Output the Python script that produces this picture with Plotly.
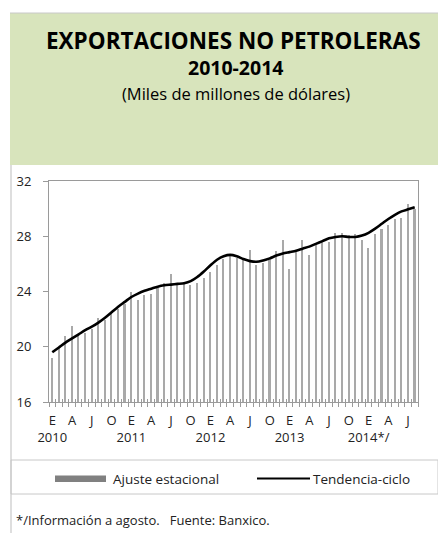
import plotly.graph_objects as go

# ---------------- data ----------------
month_index = list(range(56))  # Jan 2010 .. Aug 2014
ajuste_estacional = [
    19.2, 19.9, 20.75, 21.5, 20.85, 21.0, 21.3, 22.05, 21.95, 22.4, 22.7, 23.1,
    24.0, 23.4, 23.75, 23.85, 24.25, 24.65, 25.3, 24.6, 24.6, 24.5, 24.6, 25.0,
    25.4, 25.9, 26.35, 26.6, 26.4, 26.3, 27.0, 25.95, 26.05, 26.4, 26.9, 27.7,
    25.6, 26.9, 27.7, 26.65, 27.35, 27.55, 27.6, 28.25, 28.2, 28.1, 28.15, 27.7,
    27.15, 28.15, 28.5, 28.85, 29.25, 29.3, 30.35, 30.0,
]
tendencia_ciclo = [
    19.6, 19.95, 20.3, 20.6, 20.9, 21.2, 21.45, 21.75, 22.1, 22.5, 22.9, 23.25,
    23.6, 23.85, 24.05, 24.2, 24.35, 24.45, 24.5, 24.55, 24.6, 24.75, 25.05, 25.45,
    25.9, 26.3, 26.55, 26.65, 26.55, 26.35, 26.2, 26.15, 26.25, 26.4, 26.6, 26.75,
    26.85, 26.95, 27.1, 27.25, 27.45, 27.65, 27.85, 27.95, 28.0, 27.95, 27.95, 28.05,
    28.25, 28.55, 28.9, 29.25, 29.55, 29.8, 29.95, 30.1,
]
month_letters = ["E", "A", "J", "O"]
year_labels = ["2010", "2011", "2012", "2013", "2014*/"]
y_ticks = [16, 20, 24, 28, 32]

# ---------------- layout geometry ----------------
W, H = 438, 533
L, R, T, B = 49, 20, 181, 131
PW = W - L - R
PH = H - T - B

def px(x):
    return (x - L) / PW

def py(y):
    return (H - B - y) / PH

FONT = "Open Sans"

tickvals = list(range(0, len(month_index), 3))
ticktext = []
for i in tickvals:
    t = month_letters[(i % 12) // 3]
    if i % 12 == 0:
        t = t + "<br>" + year_labels[i // 12]
    ticktext.append(t)
boundaries = [k - 0.5 for k in range(len(month_index) + 1)]

fig = go.Figure()
fig.add_trace(go.Bar(x=month_index, y=ajuste_estacional, width=0.24,
                     marker=dict(color="#a9a9a9", line=dict(width=0)),
                     name="Ajuste estacional", showlegend=False))
fig.add_trace(go.Scatter(x=month_index, y=tendencia_ciclo, mode="lines",
                         line=dict(color="black", width=2.6, shape="spline", smoothing=0.8),
                         name="Tendencia-ciclo", showlegend=False))
# invisible trace for inside ticks axis
fig.add_trace(go.Scatter(x=[month_index[0]], y=[y_ticks[0]], xaxis="x2", mode="markers",
                         marker=dict(opacity=0), showlegend=False, hoverinfo="skip"))

axis_gray = "#9a9a9a"
fig.update_layout(
    width=W, height=H,
    margin=dict(l=L, r=R, t=T, b=B, autoexpand=False),
    paper_bgcolor="white", plot_bgcolor="white",
    font=dict(family=FONT, color="#222222", size=13),
    bargap=0,
    xaxis=dict(range=[-0.5, len(month_index) - 0.5], tickmode="array",
               tickvals=tickvals, ticktext=ticktext, ticks="", showgrid=False,
               zeroline=False, showline=True, linecolor=axis_gray, linewidth=1,
               mirror=True, ticklabelstandoff=6, tickangle=0, automargin=False,
               tickfont=dict(size=13, family=FONT, color="#222222"),
               minor=dict(tickmode="array", tickvals=boundaries, ticks="outside",
                          ticklen=4, tickcolor=axis_gray, tickwidth=1, showgrid=False)),
    xaxis2=dict(overlaying="x", range=[-0.5, len(month_index) - 0.5], tickmode="array",
                tickvals=boundaries, ticks="inside", ticklen=3, tickcolor=axis_gray,
                showticklabels=False, showgrid=False, zeroline=False, side="bottom",
                showline=False, automargin=False),
    yaxis=dict(range=[y_ticks[0], y_ticks[-1]], tickmode="array", tickvals=y_ticks,
               ticks="outside", ticklen=5, tickcolor=axis_gray, showgrid=False,
               zeroline=False, showline=True, linecolor=axis_gray, linewidth=1,
               mirror=True, ticklabelstandoff=9, automargin=False,
               tickfont=dict(size=13, family=FONT, color="#222222")),
)

shapes = []
# green title box
shapes.append(dict(type="rect", xref="paper", yref="paper", x0=px(10), x1=px(438),
                   y0=py(165), y1=py(13), fillcolor="#d8e4bc", line=dict(width=0),
                   layer="below"))
# frame lines (top and left)
shapes.append(dict(type="line", xref="paper", yref="paper", x0=px(10), x1=px(438),
                   y0=py(13), y1=py(13), line=dict(color="#c8c8c8", width=1)))
shapes.append(dict(type="line", xref="paper", yref="paper", x0=px(11), x1=px(11),
                   y0=py(165), y1=py(533), line=dict(color="#bdbdbd", width=1)))
# legend box
shapes.append(dict(type="rect", xref="paper", yref="paper", x0=px(11), x1=px(438),
                   y0=py(494), y1=py(460), line=dict(color="#c8c8c8", width=1),
                   fillcolor="rgba(0,0,0,0)"))
# legend swatches
shapes.append(dict(type="rect", xref="paper", yref="paper", x0=px(55), x1=px(106),
                   y0=py(482), y1=py(475.5), fillcolor="#808080", line=dict(width=0)))
shapes.append(dict(type="line", xref="paper", yref="paper", x0=px(257), x1=px(310),
                   y0=py(478.5), y1=py(478.5), line=dict(color="black", width=2.2)))
fig.update_layout(shapes=shapes)

ann = []
ann.append(dict(text="<b>EXPORTACIONES NO PETROLERAS</b>", x=px(234), y=py(40),
                xref="paper", yref="paper", showarrow=False,
                font=dict(size=22.5, family=FONT, color="black"), xanchor="center", yanchor="middle"))
ann.append(dict(text="<b>2010-2014</b>", x=px(235), y=py(67),
                xref="paper", yref="paper", showarrow=False,
                font=dict(size=19.5, family=FONT, color="black"), xanchor="center", yanchor="middle"))
ann.append(dict(text="(Miles de millones de dólares)", x=px(236), y=py(93),
                xref="paper", yref="paper", showarrow=False,
                font=dict(size=16.5, family=FONT, color="black"), xanchor="center", yanchor="middle"))
ann.append(dict(text="Ajuste estacional", x=px(111), y=py(478.5),
                xref="paper", yref="paper", showarrow=False,
                font=dict(size=13.5, family=FONT, color="#222222"), xanchor="left", yanchor="middle"))
ann.append(dict(text="Tendencia-ciclo", x=px(311), y=py(478.5),
                xref="paper", yref="paper", showarrow=False,
                font=dict(size=13.5, family=FONT, color="#222222"), xanchor="left", yanchor="middle"))
ann.append(dict(text="*/Información a agosto.   Fuente: Banxico.", x=px(14), y=py(520),
                xref="paper", yref="paper", showarrow=False,
                font=dict(size=13, family=FONT, color="#222222"), xanchor="left", yanchor="middle"))
fig.update_layout(annotations=ann)

fig.write_html("out.html", config={"displayModeBar": False},
               post_script="document.body.style.margin='0';document.body.style.padding='0';"
                           "document.body.style.overflow='hidden';")
